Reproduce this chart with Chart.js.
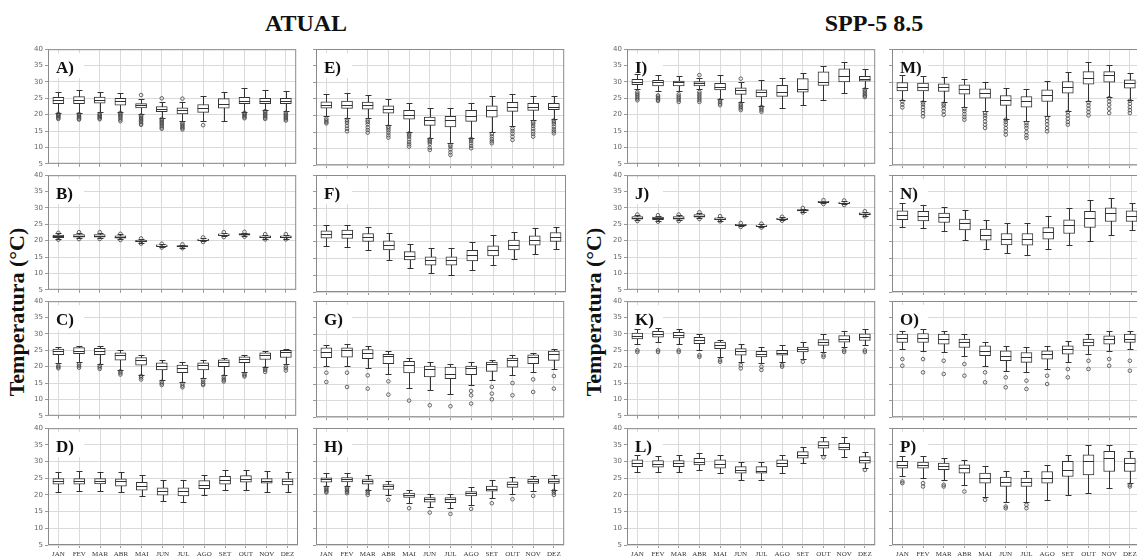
<!DOCTYPE html>
<html>
<head>
<meta charset="utf-8">
<script src="https://cdn.jsdelivr.net/npm/chart.js@4.4.1/dist/chart.umd.min.js"></script>
<style>
  body { margin: 0; width: 1137px; height: 556px; overflow: hidden; background: #fff; position: relative; }
  canvas { position: absolute; }
  .titulo { position: absolute; font-family: "Liberation Serif", serif; font-weight: bold; font-size: 24px; color: #111; transform: translate(-50%, -50%); white-space: nowrap; }
  .eixo { position: absolute; font-family: "Liberation Serif", serif; font-weight: bold; font-size: 22px; color: #111; transform: translate(-50%, -50%) rotate(-90deg); white-space: nowrap; }
</style>
</head>
<body>
<div class="titulo" style="left:306px;top:23px">ATUAL</div>
<div class="titulo" style="left:874px;top:23px">SPP-5 8.5</div>
<div class="eixo" style="left:17px;top:312px">Temperatura (°C)</div>
<div class="eixo" style="left:594px;top:312px">Temperatura (°C)</div>
<script>
const meses = ['JAN', 'FEV', 'MAR', 'ABR', 'MAI', 'JUN', 'JUL', 'AGO', 'SET', 'OUT', 'NOV', 'DEZ'];
const yTicks = [5, 10, 15, 20, 25, 30, 35, 40];

// cada mês: [limite inferior, Q1, mediana, Q3, limite superior]
// ATUAL
const boxA = [[20.6,23.4,24.4,25.3,27.0],[20.6,23.4,24.5,25.5,27.4],[20.7,23.5,24.5,25.4,26.9],[20.9,22.9,24.2,25.0,26.6],
  [20.3,22.1,22.9,23.4,24.7],[19.0,20.9,21.7,22.5,23.9],[18.0,20.2,21.3,22.1,24.0],[18.0,20.7,22.0,23.1,25.7],
  [18.1,22.0,23.2,24.9,26.9],[20.8,23.4,24.3,25.3,28.0],[21.4,23.4,24.3,25.0,27.5],[21.0,23.4,24.3,25.0,27.2]];
const outA = [[20.3,20.0,19.7,19.4,19.0,18.7],[20.2,19.9,19.5,19.2,18.8,18.5],[20.2,19.9,19.6,19.3,18.9,18.6],[20.6,20.2,19.8,19.4,19.0,18.5,18.0],
  [26.0,19.8,19.4,19.0,18.6,18.2,17.8,17.3,16.9],[25.0,18.7,18.3,17.9,17.5,17.1,16.6,16.1,15.7],[24.9,17.5,17.1,16.7,16.3,15.9,15.5],[16.8],
  [],[20.6,20.3,20.0,19.6,19.2,18.9],[21.1,20.7,20.3,19.9,19.5,19.1,18.7],[20.6,20.2,19.8,19.4,19.0,18.6,18.2]];

const boxB = [[20.5,20.9,21.3,21.7,22.2],[20.7,21.1,21.5,21.9,22.4],[20.7,21.1,21.5,21.9,22.4],[20.4,20.8,21.1,21.5,21.9],
  [19.3,19.6,19.9,20.2,20.5],[18.1,18.3,18.5,18.7,18.9],[17.9,18.1,18.3,18.5,18.7],[19.8,20.1,20.3,20.5,20.8],
  [21.3,21.6,21.8,22.1,22.4],[21.4,21.7,21.9,22.2,22.5],[20.6,20.9,21.2,21.5,21.8],[20.6,20.9,21.2,21.5,21.8]];
const outB = [[20.3,22.4],[20.5,22.6],[20.5,22.6],[20.2,22.1],[19.1,20.7],[17.9,19.1],[17.7,18.9],[19.6,21.0],[21.1,22.6],[21.2,22.7],[20.4,22.0],[20.4,22.0]];

const boxC = [[21.0,23.7,24.7,25.4,26.1],[21.5,24.0,24.8,25.8,26.4],[20.8,23.7,24.8,25.6,26.2],[19.0,22.0,23.5,24.2,25.0],
  [17.5,20.5,22.0,22.8,23.5],[15.8,19.0,20.3,21.2,22.0],[15.3,18.2,19.7,20.5,21.3],[16.5,19.0,20.5,21.2,22.0],
  [17.5,20.0,21.5,22.1,22.7],[18.3,21.2,22.5,23.0,23.5],[20.0,22.2,23.5,24.2,24.7],[20.7,22.8,24.5,25.0,25.3]];
const outC = [[20.3,19.9,19.5],[20.7,20.2,19.7],[20.3,19.8,19.3],[18.6,18.1,17.6],[17.2,16.7,16.1],[15.4,14.9,14.4],
  [14.8,14.2,13.7],[16.0,15.4,14.8,14.4],[17.0,16.4,15.9,15.5],[17.8,17.4,17.0],[19.5,19.0,18.4],[20.0,19.5,18.8]];

const boxD = [[21.0,23.2,24.2,24.9,26.9],[21.2,23.2,24.2,24.9,27.2],[21.2,23.3,24.3,24.9,26.9],[21.0,22.6,24.1,24.8,26.9],
  [19.7,21.4,22.8,23.8,25.9],[18.2,19.9,21.2,22.1,24.6],[17.9,19.7,21.2,22.1,24.6],[20.0,21.9,23.1,24.3,26.1],
  [21.6,23.2,24.6,25.6,27.4],[21.6,23.8,24.8,25.8,27.6],[21.0,23.5,24.3,24.9,27.1],[21.0,23.0,24.1,24.8,26.9]];
const outD = [[],[],[],[],[],[],[],[],[],[],[],[]];

const boxE = [[19.7,22.2,23.2,24.1,26.4],[19.3,22.1,23.2,24.3,26.7],[19.2,21.9,23.1,24.0,26.2],[17.0,20.7,21.9,22.9,25.0],
  [15.0,18.9,20.2,21.5,23.8],[13.1,17.0,18.5,19.5,22.2],[11.6,16.5,18.5,19.7,22.2],[13.3,18.2,19.9,21.5,23.8],
  [14.9,19.5,21.5,22.9,25.7],[16.7,21.2,22.6,23.9,26.4],[18.5,21.5,22.6,23.6,25.7],[19.0,21.7,22.6,23.6,25.7]];
const outE = [[19.0,18.5,18.0,17.6],[18.7,18.2,17.7,16.8,16.0,15.2],[18.5,18.0,17.3,16.4,15.6,14.8],[16.6,16.1,15.5,14.8,14.0,13.3],
  [14.6,14.1,13.6,12.8,12.0,11.3,10.6],[12.8,12.4,12.0,11.4,10.3,9.6],[11.1,10.6,9.8,8.9,8.1],[12.9,12.3,11.6,10.8,10.1],
  [14.4,13.7,12.9,12.2,11.6],[16.0,15.3,14.5,13.6,12.6],[18.0,17.5,16.8,16.0,15.2,14.4,13.6],[18.5,18.0,17.4,16.6,15.8,15.2,14.6]];

const boxF = [[18.7,21.1,22.3,23.3,25.1],[18.4,21.0,22.3,23.5,25.1],[17.6,20.1,21.5,22.5,24.4],[14.6,17.6,19.0,20.3,22.6],
  [12.1,14.6,15.8,17.1,19.5],[10.6,13.0,14.5,15.5,18.1],[10.0,13.0,14.5,15.5,18.1],[11.6,14.3,16.0,17.5,20.1],
  [13.1,15.8,17.5,18.8,22.0],[14.8,17.6,19.0,20.5,23.0],[16.3,19.0,20.5,21.8,24.1],[18.0,20.1,21.5,22.8,24.5]];
const outF = [[],[],[],[],[],[],[],[],[],[],[],[]];

const boxG = [[20.4,22.9,24.6,25.9,26.8],[20.4,23.1,25.1,25.9,27.1],[19.8,22.6,24.4,25.4,26.3],[17.9,21.1,23.3,23.9,24.9],
  [13.8,18.3,20.6,21.8,22.9],[13.1,17.1,19.4,20.4,21.7],[11.9,16.6,18.1,20.1,21.1],[14.6,17.8,19.9,20.4,21.7],
  [16.1,18.8,20.9,21.6,22.2],[17.6,20.1,22.3,22.8,23.6],[18.6,21.1,23.1,23.8,24.4],[19.4,22.1,24.1,24.9,25.6]];
const outG = [[18.4,15.6],[18.4,14.1],[17.6,13.6],[15.8,11.8],[10.0],[8.6],[8.3],[12.9,11.6,9.1],[14.1,12.1,10.4],[15.3,11.6],[16.4,12.6],[17.4,13.6]];

const boxH = [[22.6,23.8,24.6,25.1,26.4],[22.6,23.9,24.7,25.2,26.4],[21.6,23.2,24.1,24.6,25.9],[20.0,21.6,22.6,23.1,24.1],
  [17.5,19.2,20.0,20.5,21.6],[16.3,17.8,18.7,19.2,20.3],[16.0,17.7,18.7,19.2,20.3],[17.0,19.7,20.5,21.0,22.4],
  [19.2,21.1,21.9,22.6,24.4],[20.3,22.2,23.2,23.9,25.4],[21.2,23.4,24.1,24.7,25.6],[21.6,23.4,24.2,24.8,25.9]];
const outH = [[22.2,21.8,21.4,21.0,20.7],[22.2,21.8,21.3,20.9,20.5],[21.2,20.6,20.0],[18.5],[16.0],[14.7],[14.3],[15.8],[17.5],[18.7],[19.7],[21.2,20.6,20.0]];

// SPP-5 8.5
const boxI = [[27.9,29.2,30.1,30.8,32.5],[27.2,28.8,29.9,30.5,32.1],[27.2,28.8,29.9,30.3,31.8],[27.9,28.8,29.6,30.1,31.1],
  [24.9,27.6,28.6,29.6,32.1],[23.9,26.2,27.6,28.2,29.9],[22.6,25.4,26.8,27.6,30.5],[21.9,25.6,26.9,29.0,31.1],
  [22.9,26.9,27.9,31.0,32.8],[24.6,28.9,30.1,33.1,35.0],[26.7,30.0,31.8,34.0,36.1],[28.0,30.2,31.0,31.7,34.0]];
const outI = [[26.9,26.4,25.9,25.4,24.9,24.4],[25.9,25.5,25.0,24.6,24.2],[26.2,25.6,25.1,24.5,23.9],[32.1,26.9,26.3,25.7,25.1,24.5,23.9],
  [24.4,23.9,23.4,22.9],[31.0,23.4,22.9,22.4,21.9,21.4],[22.4,21.9,21.4,20.9],[],[],[],[],[27.7,27.2,26.7,26.2,25.8,25.4]];

const boxJ = [[26.2,26.6,27.0,27.4,27.8],[26.0,26.4,26.8,27.2,27.6],[26.2,26.6,27.0,27.4,27.8],[26.8,27.2,27.6,28.0,28.5],
  [26.1,26.4,26.7,27.0,27.3],[24.4,24.6,24.8,25.0,25.2],[24.2,24.4,24.6,24.8,25.0],[26.3,26.5,26.7,26.9,27.1],
  [28.8,29.1,29.3,29.5,29.8],[31.4,31.6,31.8,32.0,32.2],[31.1,31.4,31.6,31.8,32.1],[27.6,27.9,28.2,28.5,28.8]];
const outJ = [[26.0,28.0],[25.8,27.8],[26.0,28.0],[26.6,28.7],[25.9,27.5],[24.2,25.4],[24.0,25.2],[26.1,27.3],[28.6,30.0],[31.2,32.4],[30.9,32.3],[27.4,29.0]];

const boxK = [[27.0,28.5,29.4,30.3,31.5],[27.5,29.0,30.0,30.8,31.8],[27.0,28.8,29.8,30.5,31.5],[25.0,27.0,28.2,29.0,30.0],
  [23.0,25.5,26.5,27.5,28.3],[21.5,23.5,24.7,25.5,27.0],[21.0,23.0,23.8,24.7,26.0],[21.5,23.5,24.3,25.0,26.5],
  [22.5,24.5,25.3,26.0,27.5],[24.5,26.5,27.5,28.3,30.0],[26.0,27.5,28.5,29.5,31.0],[26.5,28.0,29.0,30.0,31.5]];
const outK = [[25.0,24.5],[25.0,24.5],[25.0,24.5],[23.5,23.0],[22.0,21.5],[20.5,19.5],[20.0,19.0],[20.5,20.0],[21.5],[23.5,23.0],[25.0,24.5],[25.0,24.5]];

const boxL = [[27.0,28.5,29.5,30.5,32.0],[26.8,28.3,29.3,30.3,31.8],[26.8,28.5,29.5,30.3,32.0],[27.5,29.0,30.0,31.0,32.5],
  [26.5,28.0,29.3,30.5,32.0],[24.5,26.5,27.5,28.5,30.0],[24.5,26.5,27.3,28.5,30.0],[26.5,28.5,29.5,30.5,32.0],
  [29.5,31.0,32.0,33.0,34.5],[32.0,34.0,35.0,36.0,37.5],[31.5,33.5,34.5,35.5,37.5],[28.0,29.5,30.5,31.5,33.0]];
const outL = [[],[],[],[],[],[],[],[],[],[31.3],[],[27.5]];

const boxM = [[24.7,27.4,28.7,29.9,32.2],[24.2,27.4,28.7,29.7,31.9],[23.9,27.2,28.5,29.5,31.5],[22.4,26.4,28.0,29.2,31.0],
  [21.2,25.2,26.7,28.0,30.2],[19.0,23.0,24.7,26.0,28.2],[18.2,22.5,24.2,25.7,28.0],[19.7,24.2,26.0,27.7,30.4],
  [21.4,26.7,28.5,30.2,33.0],[24.2,29.4,31.4,33.2,36.2],[25.4,30.0,32.2,33.2,35.2],[24.7,28.2,29.7,30.7,32.7]];
const outM = [[24.2,23.3,22.4],[23.9,23.3,22.5,21.6,20.7,19.7],[23.5,23.0,22.2,21.2,20.2],[22.0,21.3,20.4,19.5,18.7],
  [20.7,20.0,19.2,18.2,17.2,16.2],[18.7,18.0,17.2,16.2,15.2,14.2],[17.7,17.0,16.2,15.0,14.0,13.2],[19.2,18.3,17.3,16.2,15.2],
  [21.0,20.0,19.0,18.0,17.2],[23.9,23.0,22.0,21.0,20.0],[25.2,24.2,23.2,22.0,20.7],[24.4,23.5,22.5,21.6,20.7]];

const boxN = [[24.3,26.6,28.1,29.3,31.5],[24.1,26.3,27.8,29.1,30.9],[23.3,25.8,27.3,28.6,30.5],[20.5,23.6,25.5,26.8,29.5],
  [17.8,20.5,22.1,23.8,26.5],[16.6,19.1,20.8,22.5,25.5],[16.1,19.0,20.8,22.5,25.5],[17.8,20.8,22.8,24.3,27.6],
  [19.0,22.5,25.1,26.6,30.2],[20.3,24.3,27.0,29.1,32.4],[22.0,26.1,28.6,30.2,33.2],[23.5,26.1,27.8,29.3,31.5]];
const outN = [[],[],[],[],[],[],[],[],[],[],[],[]];

const boxO = [[25.5,27.5,28.8,30.0,31.0],[25.0,27.5,29.0,30.2,31.5],[24.5,27.0,28.5,30.0,31.0],[23.5,26.0,27.5,28.5,30.0],
  [20.5,23.5,25.0,26.5,27.5],[19.0,22.0,23.5,25.0,26.5],[18.5,21.5,23.0,24.5,26.0],[19.5,22.5,24.0,25.0,26.5],
  [21.5,24.0,25.5,26.5,28.0],[24.0,26.5,27.5,28.5,30.0],[25.0,27.0,28.5,29.5,31.0],[25.5,27.5,28.5,30.0,31.0]];
const outO = [[22.5,20.5],[22.5,18.5],[22.0,18.0],[21.0,17.5],[18.5,15.5],[17.0,14.0],[16.0,13.5],[17.5,15.0],[19.5,17.0],[22.0,19.5],[22.5,20.5],[22.0,19.0]];

const boxP = [[25.5,28.0,29.0,30.0,31.5],[25.0,28.0,29.0,29.8,31.5],[24.5,27.5,28.5,29.5,31.0],[23.0,26.5,28.0,29.0,30.5],
  [19.5,23.5,25.0,26.5,28.5],[18.0,22.5,23.8,25.3,27.0],[18.0,22.5,23.8,25.0,27.0],[18.5,23.5,25.0,27.0,29.0],
  [20.0,25.5,27.5,30.0,32.0],[20.5,26.0,30.0,32.0,35.0],[22.0,27.0,31.0,33.0,35.0],[23.5,27.0,29.5,31.0,33.0]];
const outP = [[24.0,23.5],[23.5,22.5],[23.0,22.5],[21.0],[18.5],[16.5,16.0],[17.0,16.0],[],[],[],[],[23.0,22.5]];

const ML = 30, PH = 117;
const colX = [48, 316, 627, 892];
const rowY = [49, 175, 301, 428];

const paineis = [
  ['A', boxA, outA, 0, 0], ['B', boxB, outB, 0, 1], ['C', boxC, outC, 0, 2], ['D', boxD, outD, 0, 3],
  ['E', boxE, outE, 1, 0], ['F', boxF, outF, 1, 1], ['G', boxG, outG, 1, 2], ['H', boxH, outH, 1, 3],
  ['I', boxI, outI, 2, 0], ['J', boxJ, outJ, 2, 1], ['K', boxK, outK, 2, 2], ['L', boxL, outL, 2, 3],
  ['M', boxM, outM, 3, 0], ['N', boxN, outN, 3, 1], ['O', boxO, outO, 3, 2], ['P', boxP, outP, 3, 3]
];

function caixas(letra, box) {
  return {
    id: 'caixas' + letra,
    beforeDatasetsDraw(chart) {
      const {ctx, chartArea: a, scales: {x, y}} = chart;
      ctx.save();
      // fundo branco do rótulo
      ctx.fillStyle = '#fff';
      ctx.fillRect(a.left + 1, a.top + 4, 35, 25);
      ctx.fillStyle = '#111';
      ctx.font = 'bold 17px "Liberation Serif"';
      ctx.textBaseline = 'alphabetic';
      ctx.fillText(letra + ')', a.left + 8, a.top + 24);
      // bigodes
      ctx.strokeStyle = '#333';
      ctx.lineWidth = 1;
      box.forEach((b, i) => {
        const px = Math.round(x.getPixelForValue(i)) + 0.5;
        const lo = Math.round(y.getPixelForValue(b[0])) + 0.5;
        const hi = Math.round(y.getPixelForValue(b[4])) + 0.5;
        ctx.beginPath();
        ctx.moveTo(px, lo); ctx.lineTo(px, hi);
        ctx.moveTo(px - 3, lo); ctx.lineTo(px + 3, lo);
        ctx.moveTo(px - 3, hi); ctx.lineTo(px + 3, hi);
        ctx.stroke();
      });
      ctx.restore();
    },
    afterDatasetsDraw(chart) {
      const {ctx, chartArea: a, scales: {x, y}} = chart;
      ctx.save();
      ctx.strokeStyle = '#333';
      ctx.lineWidth = 1;
      box.forEach((b, i) => {
        const px = x.getPixelForValue(i);
        const md = Math.round(y.getPixelForValue(b[2])) + 0.5;
        ctx.beginPath();
        ctx.moveTo(px - 5.5, md); ctx.lineTo(px + 5.5, md);
        ctx.stroke();
      });
      ctx.strokeStyle = '#8a8a8a';
      ctx.strokeRect(a.left + 0.5, a.top + 0.5, a.right - a.left - 1, a.bottom - a.top - 1);
      ctx.restore();
    }
  };
}

paineis.forEach(([letra, box, out, c, r]) => {
  const ultima = r === 3;
  const comRotulo = c === 0 || c === 2;
  const baixo = ultima ? 18 : 4;
  const cv = document.createElement('canvas');
  cv.width = ML + 250 + 3;
  cv.height = 6 + PH + baixo;
  cv.style.left = (colX[c] - ML) + 'px';
  cv.style.top = (rowY[r] - 6) + 'px';
  document.body.appendChild(cv);

  const pontos = [];
  out.forEach((lista, i) => lista.forEach(v => pontos.push({x: meses[i], y: v})));

  new Chart(cv, {
    type: 'bar',
    data: {
      labels: meses,
      datasets: [
        {
          type: 'line',
          data: pontos,
          showLine: false,
          pointRadius: 1.8,
          pointBorderWidth: 0.8,
          pointBorderColor: '#444',
          pointBackgroundColor: 'rgba(255,255,255,0)'
        },
        {
          data: box.map(b => [b[1], b[3]]),
          backgroundColor: '#fff',
          borderColor: '#333',
          borderWidth: 1,
          borderSkipped: false,
          barThickness: 11
        }
      ]
    },
    options: {
      responsive: false,
      animation: false,
      events: [],
      layout: {padding: {top: 6, right: 3}},
      plugins: {legend: {display: false}, tooltip: {enabled: false}},
      scales: {
        x: {
          offset: true,
          grid: {offset: false, color: '#dadada', tickLength: 3, tickColor: '#999'},
          border: {display: false},
          ticks: {display: ultima, autoSkip: false, maxRotation: 0, padding: 2, color: '#333',
                  font: {family: 'Liberation Serif', size: 7}},
          afterFit: s => { s.height = baixo; }
        },
        y: {
          min: 5, max: 40,
          afterBuildTicks: s => { s.ticks = yTicks.map(v => ({value: v})); },
          grid: {color: '#dadada', tickLength: 3, tickColor: '#999'},
          border: {display: false},
          ticks: {display: comRotulo, padding: 2, color: '#666', font: {family: 'DejaVu Sans', size: 7}},
          afterFit: s => { s.width = ML; }
        }
      }
    },
    plugins: [caixas(letra, box)]
  });
});
</script>
</body>
</html>
